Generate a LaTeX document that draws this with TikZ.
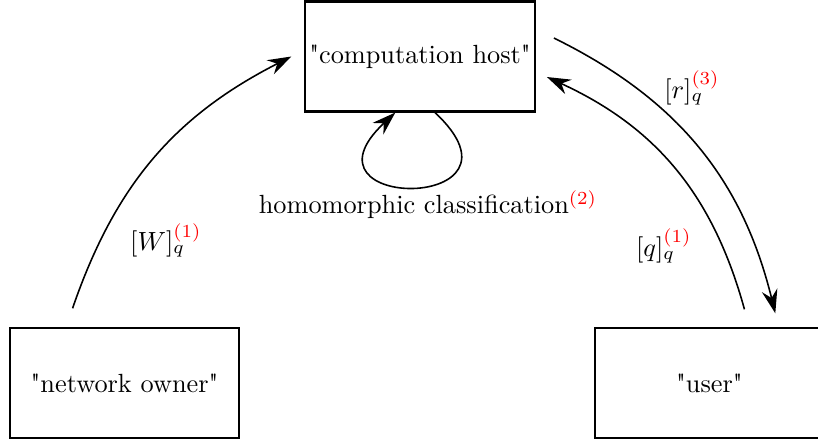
\documentclass[tikz,border=0pt]{standalone}
\usepackage{fontspec}
\setmainfont{Latin Modern Roman}[Ligatures=TeXOff]  % keep the straight quotes
\usepackage{xcolor}
\usepackage{tikz}
\usetikzlibrary{positioning}
\usetikzlibrary{arrows.meta}

\begin{document}
\begin{tikzpicture}[
     myparty/.style={rectangle, draw, thick, minimum width=3.07cm, minimum height=1.47cm, inner sep=1pt},
     mymsg/.style={semithick, -{Stealth[length=9pt, width=6pt, inset=3pt]}}  % long thin heads as in the sketch
 ]
 \useasboundingbox (-5.613,-5.138) rectangle (5.319,0.755);

 \node[myparty] (host) at (0,0) {"computation host"};
 \node[myparty, below left=2.87cm and 0.85cm of host] (owner) {"network owner"};
 \node[myparty, below right=2.87cm and 0.77cm of host] (user) {"user"};

 % weights go up to the host
 \draw[mymsg] ([xshift=-0.695cm, yshift=0.254cm]owner.north) to[bend left=22]
     node[pos=0.2, right=0.27cm] (wlabel) {$[W]_q^{\textcolor{red}{(1)}}$} ([xshift=-0.17cm]host.west);

 % query and result
 \draw[mymsg] ([xshift=0.468cm, yshift=0.24cm]user.north) to[bend right=25]
     node[pos=0.2, left=0.28cm] (qlabel) {$[q]_q^{\textcolor{red}{(1)}}$} ([xshift=0.147cm, yshift=-0.274cm]host.east);
 \draw[mymsg] ([xshift=0.24cm, yshift=0.247cm]host.east) to[bend left=25]
     node[pos=0.25, right=0.25cm] (rlabel) {$[r]_q^{\textcolor{red}{(3)}}$} ([xshift=0.88cm, yshift=0.187cm]user.north);

 % the host works on its own
 \draw[mymsg] ([xshift=0.2cm]host.south) .. controls +(-43:1.95cm) and +(-137:1.95cm) .. ([xshift=-0.33cm]host.south);
 \node (hclass) at ([xshift=0.107cm, yshift=-1.23cm]host.south) {homomorphic classification$^{\textcolor{red}{(2)}}$};
\end{tikzpicture}
\end{document}
